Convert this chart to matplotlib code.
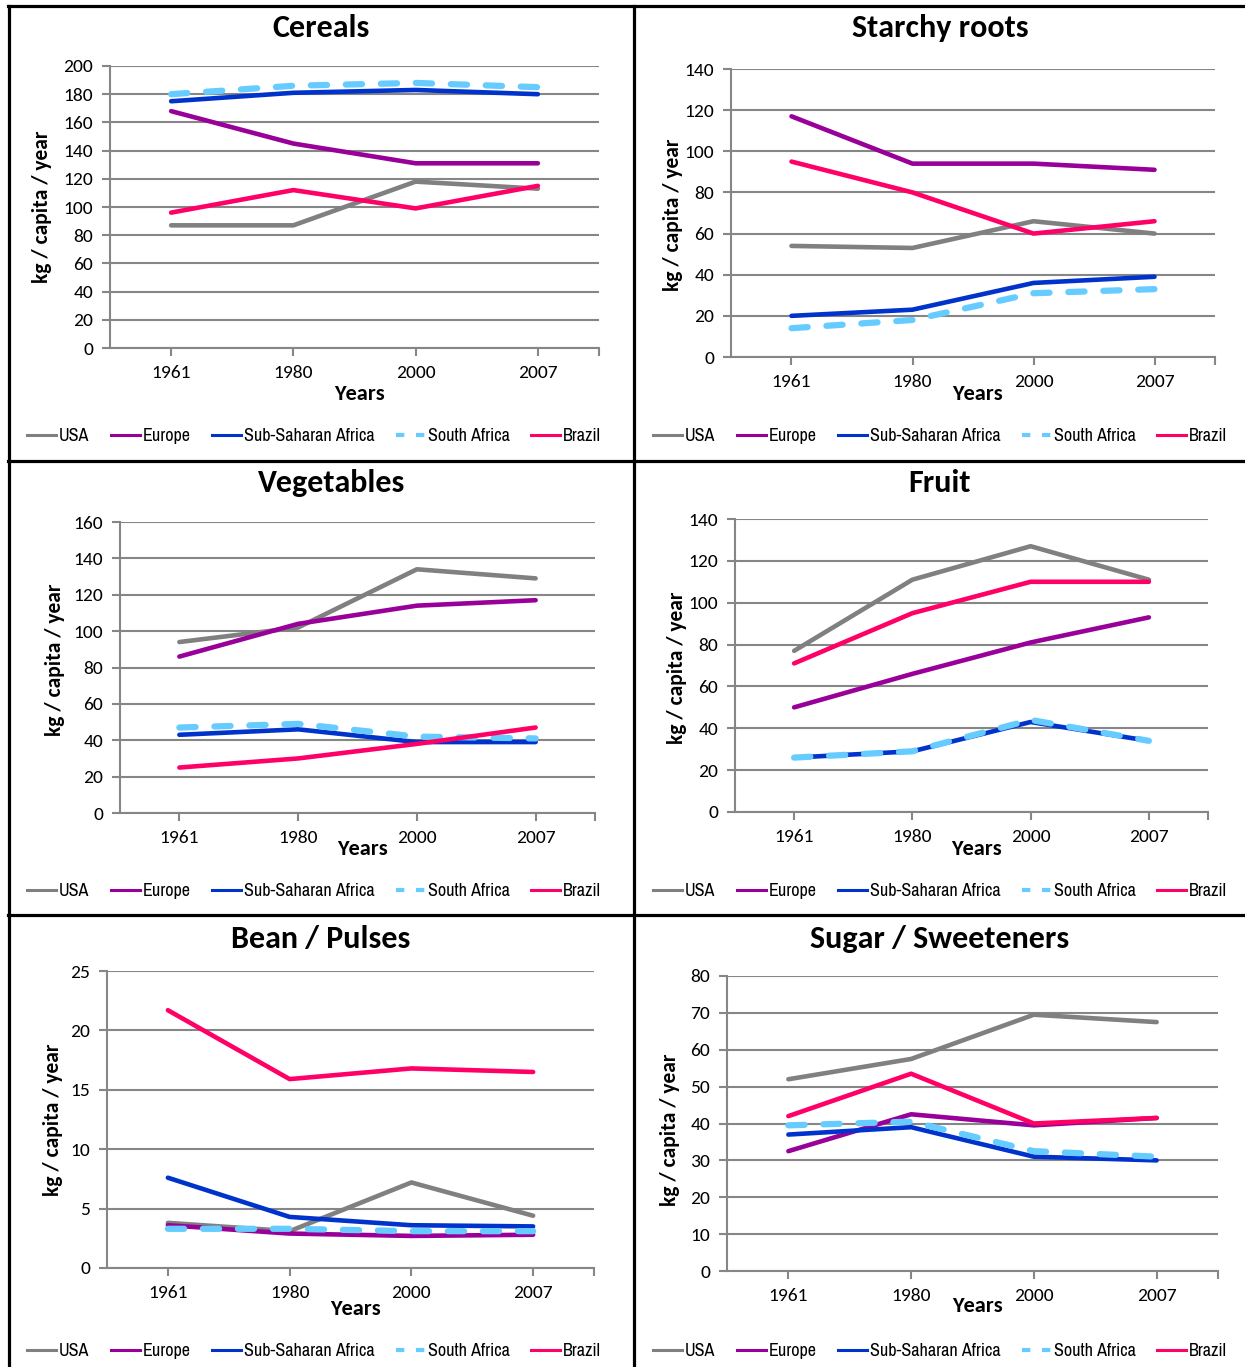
import matplotlib
matplotlib.use("Agg")
import matplotlib.pyplot as plt
import numpy as np
from matplotlib import font_manager
from matplotlib.lines import Line2D

# food supply per capita, kg / capita / year
years = ["1961", "1980", "2000", "2007"]
regions = ["USA", "Europe", "Sub-Saharan Africa", "South Africa", "Brazil"]

cereals = [
    [87, 87, 118, 113],     # USA
    [168, 145, 131, 131],   # Europe
    [175, 181, 183, 180],   # Sub-Saharan Africa
    [180, 186, 188, 185],   # South Africa
    [96, 112, 99, 115],     # Brazil
]
starchy_roots = [
    [54, 53, 66, 60],
    [117, 94, 94, 91],
    [20, 23, 36, 39],
    [14, 18, 31, 33],
    [95, 80, 60, 66],
]
vegetables = [
    [94, 102, 134, 129],
    [86, 104, 114, 117],
    [43, 46, 39, 39],
    [47, 49, 42, 41],
    [25, 30, 38, 47],
]
fruit = [
    [77, 111, 127, 111],
    [50, 66, 81, 93],
    [26, 29, 43, 34],
    [26, 29, 44, 34],
    [71, 95, 110, 110],
]
pulses = [
    [3.8, 3.1, 7.2, 4.4],
    [3.6, 2.9, 2.7, 2.8],
    [7.6, 4.3, 3.6, 3.5],
    [3.3, 3.3, 3.1, 3.1],
    [21.7, 15.9, 16.8, 16.5],
]
sugar = [
    [52, 57.5, 69.5, 67.5],
    [32.5, 42.5, 39.5, 41.5],
    [37, 39, 31, 30],
    [39.5, 40.5, 32.5, 31],
    [42, 53.5, 40, 41.5],
]

colors = ["#808080", "#990099", "#0033cc", "#66ccff", "#ff0066"]

ttf = font_manager.fontManager.ttflist
installed = {f.name for f in ttf}


def pick(*names):
    return [n for n in names if n in installed] + ["DejaVu Sans"]


def is_regular(f):
    return f.style == "normal" and f.weight in (400, "normal", "regular", "book")


def condensed_font():
    # an upright, regular-weight narrow face, if one is installed
    for f in ttf:
        low = f.name.lower()
        if ("narrow" in low or "condensed" in low) and is_regular(f):
            return font_manager.FontProperties(fname=f.fname)
    for f in ttf:
        st = f.stretch
        if isinstance(st, str) and "condensed" in st and is_regular(f):
            return font_manager.FontProperties(fname=f.fname)
    return None


main_font = pick("Carlito", "Lato")
plt.rcParams["font.family"] = main_font

narrow = condensed_font()
if narrow is not None:
    narrow.set_size(13)
    legend_prop = narrow
else:
    legend_prop = {"family": main_font, "size": 12}

W, H = 1245, 1367
fig = plt.figure(figsize=(W / 100, H / 100), dpi=100)

grid_col = "#868686"

# (title, data, ymax, ystep, axes box in px: left, right, top, bottom,
#  title xy, ylabel xy, "Years" y, legend centre xy)
panels = [
    ("Cereals", cereals, 200, 20, (110, 599, 66, 348), (321, 28), (42, 207), 394, (314, 436)),
    ("Starchy roots", starchy_roots, 140, 20, (731, 1215, 69, 357), (940, 28), (673, 215), 394, (940, 436)),
    ("Vegetables", vegetables, 160, 20, (120, 595, 522, 813), (332, 483), (55, 660), 849, (314, 891)),
    ("Fruit", fruit, 140, 20, (735, 1208, 519, 812), (940, 483), (677, 668), 849, (940, 891)),
    ("Bean / Pulses", pulses, 25, 5, (107, 594, 971, 1268), (321, 939), (53, 1120), 1309, (314, 1351)),
    ("Sugar / Sweeteners", sugar, 80, 10, (727, 1218, 976, 1271), (940, 939), (670, 1130), 1306, (940, 1351)),
]

x = np.arange(len(years)) + 0.5

for title, data, ymax, ystep, box, title_xy, ylab_xy, years_y, leg_xy in panels:
    left, right, top, bottom = box
    ax = fig.add_axes([left / W, 1 - bottom / H, (right - left) / W, (bottom - top) / H])

    for i, (name, vals) in enumerate(zip(regions, data)):
        if name == "South Africa":
            ln, = ax.plot(x, vals, color=colors[i], lw=4.5, dash_capstyle="round",
                          solid_joinstyle="round", zorder=3)
            ln.set_dashes([2.6, 3.0])
        else:
            ax.plot(x, vals, color=colors[i], lw=3.3, solid_capstyle="round",
                    solid_joinstyle="round", zorder=3)

    ax.set_xlim(0, 4)
    ax.set_ylim(0, ymax)
    ax.set_yticks(np.arange(0, ymax + ystep / 2, ystep))
    ax.set_xticks(list(x) + [4])
    ax.set_xticklabels(years + [""])
    ax.yaxis.grid(True, color=grid_col, lw=1.5)
    ax.set_axisbelow(True)
    for s in ["top", "right"]:
        ax.spines[s].set_visible(False)
    for s in ["left", "bottom"]:
        ax.spines[s].set_color(grid_col)
        ax.spines[s].set_linewidth(1.5)
    ax.tick_params(axis="both", colors=grid_col, width=1.5, length=6, direction="out",
                   labelcolor="black", labelsize=14)
    ax.tick_params(axis="x", pad=6)
    ax.tick_params(axis="y", pad=6)

    fig.text(title_xy[0] / W, 1 - title_xy[1] / H, title, ha="center", va="center",
             fontsize=23, fontweight="bold")
    fig.text(ylab_xy[0] / W, 1 - ylab_xy[1] / H, "kg / capita / year", ha="center",
             va="center", rotation=90, fontsize=15.5, fontweight="bold")
    fig.text(((left + right) / 2 + 5) / W, 1 - years_y / H, "Years", ha="center",
             va="center", fontsize=16, fontweight="bold")

    handles = []
    for i, name in enumerate(regions):
        if name == "South Africa":
            h = Line2D([], [], color=colors[i], lw=3.0, dashes=[2.0, 2.8])
        else:
            h = Line2D([], [], color=colors[i], lw=2.2)
        handles.append(h)
    fig.legend(handles, regions, loc="center", ncol=5,
               bbox_to_anchor=(leg_xy[0] / W, 1 - leg_xy[1] / H),
               frameon=False, handlelength=1.6, handletextpad=0.15,
               columnspacing=1.2, borderaxespad=0, borderpad=0,
               prop=legend_prop)

# table rules separating the panels
rule = dict(color="black", lw=2.3, transform=fig.transFigure)
fig.add_artist(Line2D([8 / W, 1], [1 - 6 / H, 1 - 6 / H], **rule))
fig.add_artist(Line2D([9 / W, 9 / W], [0, 1 - 6 / H], **rule))
fig.add_artist(Line2D([634 / W, 634 / W], [0, 1 - 6 / H], **rule))
for yy in (461, 915):
    fig.add_artist(Line2D([8 / W, 1], [1 - yy / H, 1 - yy / H], **rule))

fig.savefig("out.png", dpi=100)
